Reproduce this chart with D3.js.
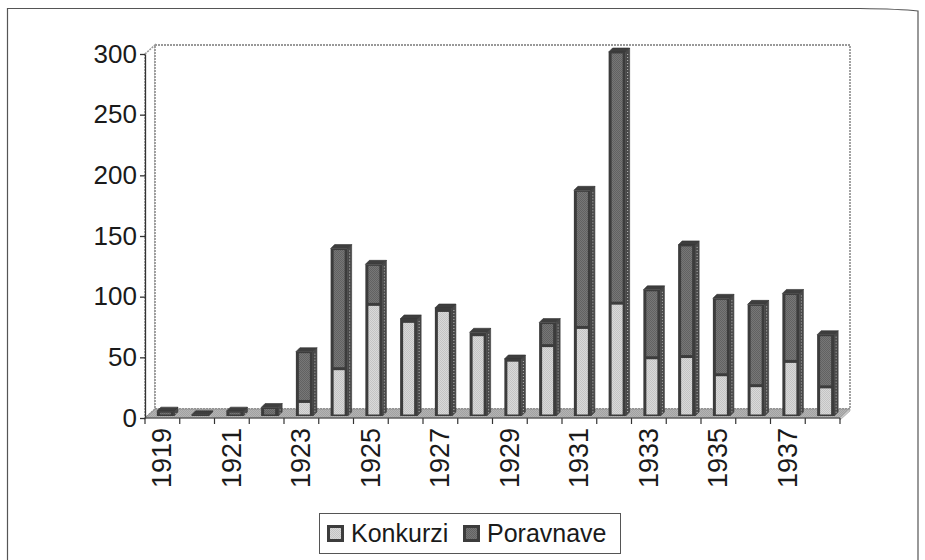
<!DOCTYPE html>
<html><head><meta charset="utf-8">
<script src="https://cdn.jsdelivr.net/npm/d3@7"></script>
<style>
html,body{margin:0;padding:0;background:#fff;}
svg{display:block;font-family:"Liberation Sans",Arial,sans-serif;}
</style></head>
<body>
<svg id="c" width="925" height="560"></svg>
<script>
const years = [1919,1920,1921,1922,1923,1924,1925,1926,1927,1928,1929,1930,1931,1932,1933,1934,1935,1936,1937,1938];
const konkurzi = [0,0,0,0,12,39,92,78,87,67,46,58,73,93,48,49,34,25,45,24];
const poravnave = [4,1,4,7,41,99,33,2,2,2,1,19,113,207,56,92,63,67,56,43];
const yTicks = [0,50,100,150,200,250,300];
const xLabelYears = [1919,1921,1923,1925,1927,1929,1931,1933,1935,1937];
const seriesNames = ["Konkurzi","Poravnave"];

const svg = d3.select("#c");
const defs = svg.append("defs");
function stipple(id, a, b){
  const p = defs.append("pattern").attr("id",id).attr("width",2).attr("height",2).attr("patternUnits","userSpaceOnUse");
  p.append("rect").attr("width",2).attr("height",2).attr("fill",a);
  p.append("rect").attr("width",1).attr("height",1).attr("fill",b);
  p.append("rect").attr("x",1).attr("y",1).attr("width",1).attr("height",1).attr("fill",b);
}
stipple("pK","#d9d9d9","#c4c4c4");
stipple("pP","#777","#626262");
stipple("pF","#b4b4b4","#a2a2a2");
const fills = ["url(#pK)","url(#pP)"];

// outer frame
svg.append("path").attr("d","M7.5,565 L7.5,8.5 L860,8.5 Q900,9 918,11 L918,565")
  .attr("fill","none").attr("stroke","#555").attr("stroke-width",1.2);

const X0=145, X1=840, Y0=418, Y1=54, DX=10, DY=-9;
const x = d3.scaleBand().domain(years).range([X0,X1]).padding(0);
const y = d3.scaleLinear().domain([0,300]).range([Y0,Y1]);
const g = svg.append("g");

// walls
g.append("path").attr("d",`M${X0},${Y1} L${X0+DX},${Y1+DY} L${X0+DX},${Y0+DY} L${X0},${Y0} Z`).attr("fill","#fff").attr("stroke","#999").attr("stroke-width",1.5).attr("stroke-dasharray","2,1");
g.append("rect").attr("x",X0+DX).attr("y",Y1+DY).attr("width",X1-X0).attr("height",Y0-Y1)
  .attr("fill","#fff").attr("stroke","#999").attr("stroke-width",1.8).attr("stroke-dasharray","2,1");
// floor
g.append("path").attr("d",`M${X0},${Y0} L${X1},${Y0} L${X1+DX},${Y0+DY} L${X0+DX},${Y0+DY} Z`).attr("fill","url(#pF)").attr("stroke","#888").attr("stroke-width",0.8);
g.append("path").attr("d",`M${X1},${Y0} L${X1},${Y0+2} L${X1+DX},${Y0+DY+2} L${X1+DX},${Y0+DY}`).attr("fill","#ccc").attr("stroke","#999").attr("stroke-width",0.6);

// bars
const bw = 17, bd = 4, base = -2;
const bars = g.append("g");
years.forEach((yr,i)=>{
  const vals=[konkurzi[i],poravnave[i]];
  const left = x(yr) + x.bandwidth()/2 - 5.5;
  let cum=0;
  const total = vals[0]+vals[1];
  const yb = y(0)+base, yt = y(total)+base;
  bars.append("path").attr("d",`M${left+bw},${yt} L${left+bw+bd},${yt-bd} L${left+bw+bd},${yb-bd} L${left+bw},${yb} Z`)
    .attr("fill","#4a4a4a").attr("stroke","#333").attr("stroke-width",0.6);
  bars.append("line").attr("x1",left+bw+2).attr("x2",left+bw+2).attr("y1",yt+2).attr("y2",yb-2)
    .attr("stroke","#bbb").attr("stroke-width",1).attr("stroke-dasharray","1,2");
  bars.append("path").attr("d",`M${left},${yt} L${left+bd},${yt-bd} L${left+bw+bd},${yt-bd} L${left+bw},${yt} Z`)
    .attr("fill","#3e3e3e").attr("stroke","#333").attr("stroke-width",0.6);
  bars.append("rect").attr("x",left).attr("y",yt).attr("width",bw).attr("height",Math.max(0,yb-yt)).attr("fill","#3c3c3c");
  vals.forEach((v,s)=>{
    if(v<=0){return;}
    const ya = y(cum)+base, yz = y(cum+v)+base;
    cum+=v;
    const h = ya-yz-3;
    if(h>0){
      bars.append("rect").attr("x",left+3).attr("y",yz+1.5).attr("width",bw-6).attr("height",h)
        .attr("fill",fills[s]);
    }
  });
});

// y axis
const ya = d3.axisLeft(y).tickValues(yTicks).tickSize(5).tickSizeOuter(0).tickPadding(3);
const yg = g.append("g").attr("transform",`translate(${X0},0)`).call(ya);
yg.selectAll("text").attr("font-size",26).attr("fill","#1a1a1a").attr("font-family","Liberation Sans, Arial, sans-serif");
yg.selectAll("line,path").attr("stroke","#333").attr("stroke-width",1.3);

// x ticks at band boundaries
const bounds = years.map(d=>x(d)).concat([X1]);
g.selectAll(".xt").data(bounds).enter().append("line")
  .attr("x1",d=>d).attr("x2",d=>d).attr("y1",Y0).attr("y2",Y0+6).attr("stroke","#333").attr("stroke-width",1.2);
g.append("line").attr("x1",X0).attr("x2",X1).attr("y1",Y0).attr("y2",Y0).attr("stroke","#444").attr("stroke-width",1.2);
g.selectAll(".xl").data(xLabelYears).enter().append("text")
  .attr("transform",d=>`translate(${x(d)+x.bandwidth()/2+9},${Y0+10}) rotate(-90)`)
  .attr("text-anchor","end").attr("font-size",27).attr("fill","#1a1a1a").text(d=>d);

// legend
const lg = svg.append("g");
lg.append("rect").attr("x",319.5).attr("y",513.5).attr("width",301).attr("height",40).attr("fill","#fff").attr("stroke","#555").attr("stroke-width",1);
const lx = [327,463];
seriesNames.forEach((n,i)=>{
  lg.append("rect").attr("x",lx[i]).attr("y",525).attr("width",17).attr("height",17).attr("fill","#3c3c3c");
  lg.append("rect").attr("x",lx[i]+3).attr("y",528).attr("width",11).attr("height",11).attr("fill",fills[i]);
  lg.append("text").attr("x",lx[i]+24).attr("y",542).attr("font-size",25).attr("fill","#1a1a1a").text(n);
});
</script>
</body></html>
